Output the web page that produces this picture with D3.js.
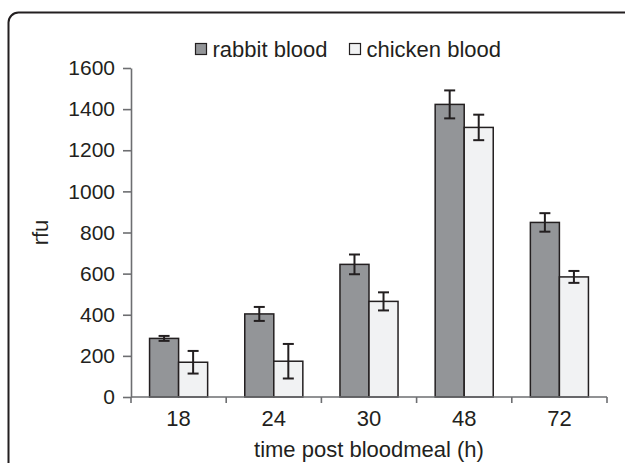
<!DOCTYPE html>
<html>
<head>
<meta charset="utf-8">
<script src="https://cdn.jsdelivr.net/npm/d3@7"></script>
<style>
  body { margin: 0; background: #fff; }
  svg { display: block; font-family: "Liberation Sans", Arial, sans-serif; }
  .axis path, .axis line { stroke: #6d6e71; stroke-width: 1.6; }
  .axis text { fill: #231f20; }
</style>
</head>
<body>
<svg width="625" height="463"></svg>
<script>
// Data.
var categories = ["18", "24", "30", "48", "72"]
  , seriesNames = ["rabbit blood", "chicken blood"]
  , rabbitMeans = [285, 404, 645, 1423, 849]
  , rabbitErrors = [12, 34, 48, 68, 45]
  , chickenMeans = [169, 174, 465, 1311, 584]
  , chickenErrors = [55, 84, 44, 62, 29]
  , yTicks = [0, 200, 400, 600, 800, 1000, 1200, 1400, 1600]
;

// Configuration parameters.
var margin = { left: 131, right: 18, top: 68, bottom: 66 }
  , fills = ["#939598", "#f1f2f3"]
  , ink = "#231f20"
  , capHalf = 5.5
;

var svg = d3.select("svg")
  , width = +svg.attr("width")
  , height = +svg.attr("height")
  , innerWidth = width - margin.left - margin.right
  , innerHeight = height - margin.top - margin.bottom
;

// Table built from the named arrays.
var rows = categories.map(function (c, i) {
    return {
      category: c,
      values: [
        { series: seriesNames[0], mean: rabbitMeans[i], err: rabbitErrors[i] },
        { series: seriesNames[1], mean: chickenMeans[i], err: chickenErrors[i] }
      ]
    };
  });

// Outer frame with rounded corner (runs off the right and bottom edges).
svg.append("rect")
    .attr("x", 8.5)
    .attr("y", 12.5)
    .attr("width", 700)
    .attr("height", 600)
    .attr("rx", 10)
    .attr("fill", "none")
    .attr("stroke", ink)
    .attr("stroke-width", 2);

var g = svg.append("g")
    .attr("transform", "translate(" + [margin.left, margin.top] + ")");

// Scales.
var x0 = d3.scaleBand()
    .domain(categories)
    .range([0, innerWidth])
    .paddingInner(0.39)
    .paddingOuter(0.195)
  , x1 = d3.scaleBand()
    .domain(seriesNames)
    .range([0, x0.bandwidth()])
  , y = d3.scaleLinear()
    .domain([0, 1600])
    .range([innerHeight, 0])
  , color = d3.scaleOrdinal().domain(seriesNames).range(fills)
;

// Y axis.
g.append("g")
    .attr("class", "axis y")
    .attr("font-size", 21)
    .attr("font-family", null)
    .call(d3.axisLeft(y)
        .tickValues(yTicks)
        .tickFormat(d3.format("d"))
        .tickSize(8)
        .tickSizeOuter(0)
        .tickPadding(8))
    .attr("font-size", 21)
    .attr("font-family", null);

// Bars.
var groups = g.selectAll(".group")
    .data(rows)
  .enter().append("g")
    .attr("class", "group")
    .attr("transform", function (d) { return "translate(" + x0(d.category) + ",0)"; });

groups.selectAll("rect")
    .data(function (d) { return d.values; })
  .enter().append("rect")
    .attr("x", function (d) { return x1(d.series); })
    .attr("width", x1.bandwidth())
    .attr("y", function (d) { return y(d.mean); })
    .attr("height", function (d) { return y(0) - y(d.mean); })
    .attr("fill", function (d) { return color(d.series); })
    .attr("stroke", ink)
    .attr("stroke-width", 1.5);

// Error bars.
var eb = groups.selectAll(".err")
    .data(function (d) { return d.values; })
  .enter().append("g")
    .attr("class", "err")
    .attr("stroke", ink)
    .attr("stroke-width", 2)
    .attr("transform", function (d) { return "translate(" + (x1(d.series) + x1.bandwidth() / 2) + ",0)"; });

eb.append("line")
    .attr("y1", function (d) { return y(d.mean + d.err); })
    .attr("y2", function (d) { return y(d.mean - d.err); });
eb.append("line")
    .attr("x1", -capHalf).attr("x2", capHalf)
    .attr("y1", function (d) { return y(d.mean + d.err); })
    .attr("y2", function (d) { return y(d.mean + d.err); });
eb.append("line")
    .attr("x1", -capHalf).attr("x2", capHalf)
    .attr("y1", function (d) { return y(d.mean - d.err); })
    .attr("y2", function (d) { return y(d.mean - d.err); });

// X axis: baseline, boundary ticks, centred labels.
var xAxisG = g.append("g")
    .attr("class", "axis x")
    .attr("transform", "translate(0," + innerHeight + ")");

xAxisG.append("line")
    .attr("x1", 0).attr("x2", innerWidth);

var bounds = d3.range(categories.length + 1).map(function (i) {
    return i === 0 ? 0 : (i === categories.length ? innerWidth : x0(categories[i]) - x0.step() * x0.paddingInner() / 2);
  });
xAxisG.selectAll(".bt")
    .data(bounds)
  .enter().append("line")
    .attr("class", "bt")
    .attr("x1", function (d) { return d; })
    .attr("x2", function (d) { return d; })
    .attr("y2", 6);

xAxisG.append("g")
    .call(d3.axisBottom(x0).tickSize(0).tickPadding(13))
    .attr("font-size", 22)
    .attr("font-family", null)
    .call(function (a) { a.select(".domain").remove(); });

// Axis titles.
svg.append("text")
    .attr("transform", "translate(40," + (margin.top + innerHeight / 2) + ") rotate(-90)")
    .attr("text-anchor", "middle")
    .attr("dy", "0.35em")
    .attr("fill", ink)
    .style("font-size", "22px")
    .text("rfu");

svg.append("text")
    .attr("x", margin.left + innerWidth / 2)
    .attr("y", 457)
    .attr("text-anchor", "middle")
    .attr("fill", ink)
    .style("font-size", "22px")
    .text("time post bloodmeal (h)");

// Legend.
var legendX = [195.5, 349.5];
var legend = svg.selectAll(".legend")
    .data(seriesNames)
  .enter().append("g")
    .attr("class", "legend")
    .attr("transform", function (d, i) { return "translate(" + legendX[i] + ",43.5)"; });

legend.append("rect")
    .attr("width", 11)
    .attr("height", 11)
    .attr("fill", function (d) { return color(d); })
    .attr("stroke", ink)
    .attr("stroke-width", 1.2);

legend.append("text")
    .attr("x", 17)
    .attr("y", 5.5)
    .attr("dy", "0.35em")
    .attr("fill", ink)
    .style("font-size", "22px")
    .text(function (d) { return d; });
</script>
</body>
</html>
